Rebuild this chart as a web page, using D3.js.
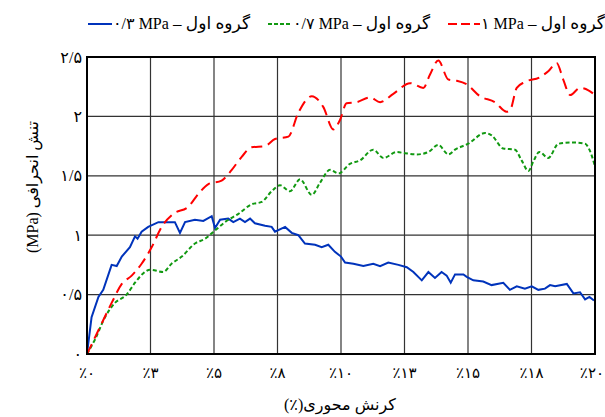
<!DOCTYPE html>
<html>
<head>
<meta charset="utf-8">
<script src="https://cdn.jsdelivr.net/npm/d3@7"></script>
<style>
  body { margin: 0; background: #fff; }
  text { font-family: "Liberation Serif", "DejaVu Sans", serif; fill: #000; }
</style>
</head>
<body>
<svg width="605" height="417"></svg>
<script>
// strain (%) vs deviator stress (MPa)
const series03 = [[0,0],[0.18,0.31],[0.45,0.48],[0.64,0.54],[0.97,0.75],[1.17,0.74],[1.37,0.82],[1.69,0.90],
  [1.89,0.99],[1.99,0.97],[2.15,1.03],[2.41,1.07],[2.81,1.11],[3.27,1.11],[3.46,1.11],[3.66,1.02],[3.86,1.11],
  [4.25,1.13],[4.58,1.12],[4.91,1.16],[5.04,1.06],[5.24,1.13],[5.56,1.14],[5.76,1.11],[6.02,1.14],[6.22,1.11],
  [6.42,1.14],[6.61,1.10],[7.01,1.08],[7.27,1.07],[7.40,1.03],[7.80,1.07],[8.06,1.02],[8.32,1.00],[8.58,0.93],
  [8.98,0.92],[9.24,0.90],[9.50,0.92],[9.76,0.86],[10.0,0.82],[10.16,0.77],[10.49,0.76],[10.88,0.74],[11.27,0.76],
  [11.54,0.74],[11.86,0.77],[12.26,0.75],[12.59,0.73],[12.85,0.69],[13.18,0.62],[13.44,0.69],[13.70,0.64],
  [13.96,0.69],[14.16,0.66],[14.32,0.60],[14.49,0.67],[14.82,0.67],[14.95,0.65],[15.21,0.62],[15.60,0.61],
  [15.93,0.58],[16.39,0.60],[16.65,0.54],[16.92,0.57],[17.24,0.55],[17.51,0.57],[17.77,0.54],[18.03,0.55],
  [18.23,0.58],[18.43,0.57],[18.89,0.59],[19.15,0.51],[19.41,0.52],[19.61,0.46],[19.78,0.48],[19.96,0.45]];

const series07 = [[0,0],[0.31,0.12],[0.71,0.31],[1.10,0.43],[1.56,0.50],[1.89,0.60],[2.22,0.68],[2.48,0.71],
  [3.00,0.69],[3.33,0.76],[3.73,0.82],[4.25,0.93],[4.65,0.97],[5.04,1.04],[5.43,1.11],[5.96,1.18],[6.48,1.26],
  [6.88,1.28],[7.27,1.37],[7.60,1.42],[7.99,1.37],[8.39,1.47],[8.85,1.34],[9.17,1.44],[9.57,1.55],[9.90,1.52],
  [10.35,1.60],[10.75,1.63],[11.27,1.72],[11.67,1.65],[12.19,1.70],[12.52,1.69],[12.98,1.68],[13.44,1.70],
  [13.83,1.76],[14.23,1.68],[14.49,1.72],[15.01,1.77],[15.67,1.86],[15.93,1.84],[16.39,1.73],[16.85,1.72],
  [17.11,1.63],[17.38,1.54],[17.57,1.62],[17.81,1.70],[18.16,1.65],[18.56,1.77],[19.15,1.78],[19.61,1.77],
  [19.78,1.72],[20,1.58]];

const series10 = [[0,0],[0.45,0.20],[0.97,0.43],[1.37,0.59],[1.76,0.66],[2.15,0.76],[2.55,0.90],[2.94,1.07],
  [3.40,1.18],[3.99,1.24],[4.39,1.35],[4.78,1.43],[5.30,1.46],[5.70,1.55],[6.09,1.66],[6.48,1.74],[7.01,1.75],
  [7.40,1.81],[7.93,1.83],[8.32,2.03],[8.85,2.17],[9.30,2.08],[9.70,1.89],[9.96,1.97],[10.22,2.11],[10.62,2.12],
  [11.14,2.16],[11.54,2.12],[12.06,2.19],[12.72,2.28],[13.24,2.24],[13.50,2.35],[13.83,2.47],[14.23,2.31],
  [14.56,2.30],[14.95,2.27],[15.47,2.17],[16.06,2.12],[16.52,2.04],[16.65,2.05],[16.92,2.24],[17.24,2.29],
  [17.83,2.33],[18.16,2.38],[18.49,2.45],[18.75,2.31],[19.02,2.18],[19.41,2.24],[19.74,2.22],[20,2.18]];

const xTicks = [0, 2.5, 5, 7.5, 10, 12.5, 15, 17.5, 20];
const xTickLabels = ['٪۰', '٪۳', '٪۵', '٪۸', '٪۱۰', '٪۱۳', '٪۱۵', '٪۱۸', '٪۲۰'];
const yTicks = [0, 0.5, 1, 1.5, 2, 2.5];
const yTickLabels = ['۰', '۰/۵', '۱', '۱/۵', '۲', '۲/۵'];
const legendValues = ['۰/۳ MPa', '۰/۷ MPa', '۱ MPa'];
const legendGroup = ' – گروه اول';

const svg = d3.select('svg');
const plotL = 87, plotR = 595, plotT = 57, plotB = 354;

const x = d3.scaleLinear().domain([0, 20]).range([plotL, plotR]);
const y = d3.scaleLinear().domain([0, 2.5]).range([plotB, plotT]);

// grid
const grid = svg.append('g').attr('stroke', '#333').attr('stroke-width', 1.2);
grid.selectAll('.gx').data(xTicks).enter().append('line')
    .attr('x1', d => x(d)).attr('x2', d => x(d))
    .attr('y1', plotT).attr('y2', plotB);
grid.selectAll('.gy').data(yTicks).enter().append('line')
    .attr('y1', d => y(d)).attr('y2', d => y(d))
    .attr('x1', plotL).attr('x2', plotR);

// tick labels (last one pulled in so it stays inside the page)
const lastX = xTicks.length - 1;
svg.append('g').selectAll('text').data(xTicks).enter().append('text')
    .attr('x', (d, i) => i === lastX ? 604 : x(d)).attr('y', 378)
    .attr('text-anchor', (d, i) => i === lastX ? 'end' : 'middle')
    .attr('font-size', 15)
    .text((d, i) => xTickLabels[i]);
svg.append('g').selectAll('text').data(yTicks).enter().append('text')
    .attr('x', 82).attr('y', d => y(d)).attr('dy', '0.35em')
    .attr('text-anchor', 'end').attr('font-size', 16)
    .text((d, i) => yTickLabels[i]);

// curves
const line = curve => d3.line().x(d => x(d[0])).y(d => y(d[1])).curve(curve);
const styles = [
    { data: series03, color: '#0033bb', dash: null, curve: d3.curveLinear },
    { data: series07, color: '#119911', dash: '4,2.5', curve: d3.curveMonotoneX },
    { data: series10, color: '#ff0000', dash: '11,6', curve: d3.curveMonotoneX }
];
styles.forEach(s => {
    svg.append('path')
        .attr('d', line(s.curve)(s.data))
        .attr('fill', 'none')
        .attr('stroke', s.color)
        .attr('stroke-width', 2)
        .attr('stroke-dasharray', s.dash);
});

// frame
svg.append('rect')
    .attr('x', plotL).attr('y', plotT)
    .attr('width', plotR - plotL).attr('height', plotB - plotT)
    .attr('fill', 'none').attr('stroke', '#000').attr('stroke-width', 2);

// legend
const legendX = [88, 268, 448];
styles.forEach((s, i) => {
    const g = svg.append('g').attr('transform', `translate(${legendX[i]}, 24)`);
    g.append('line')
        .attr('x1', 0).attr('x2', i === 2 ? 32 : 24)
        .attr('stroke', s.color).attr('stroke-width', 2)
        .attr('stroke-dasharray', i === 0 ? null : (i === 1 ? '4,2' : '9,4'));
    const t = g.append('text')
        .attr('x', i === 2 ? 33 : 25).attr('y', 5)
        .attr('font-size', 16);
    t.append('tspan').text(legendValues[i]);
    t.append('tspan').attr('font-size', 17).text(legendGroup);
});

// axis titles
svg.append('text')
    .attr('x', 340).attr('y', 410)
    .attr('text-anchor', 'middle').attr('font-size', 16)
    .text('(٪)کرنش محوری');
svg.append('text')
    .attr('transform', 'translate(38, 187) rotate(-90)')
    .attr('text-anchor', 'middle').attr('font-size', 16)
    .text('(MPa) تنش انحرافی');
</script>
</body>
</html>
